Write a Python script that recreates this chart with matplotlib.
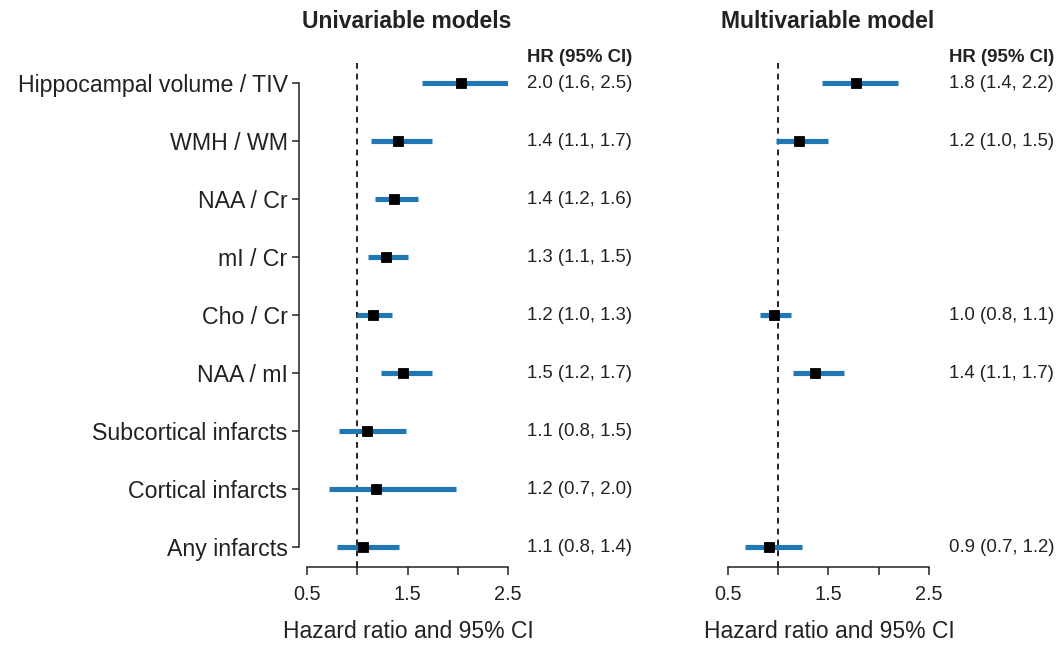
import matplotlib
matplotlib.use("Agg")
import matplotlib.pyplot as plt
import matplotlib.transforms as mtransforms

plt.rcParams['font.family'] = ['Liberation Sans', 'DejaVu Sans']

# ---------------- data ----------------
labels = ["Hippocampal volume / TIV", "WMH / WM", "NAA / Cr", "mI / Cr", "Cho / Cr",
          "NAA / mI", "Subcortical infarcts", "Cortical infarcts", "Any infarcts"]

uni_est = [2.03, 1.41, 1.37, 1.29, 1.16, 1.46, 1.10, 1.19, 1.06]
uni_lo = [1.64, 1.14, 1.18, 1.11, 1.00, 1.24, 0.82, 0.72, 0.80]
uni_hi = [2.51, 1.74, 1.60, 1.50, 1.35, 1.74, 1.49, 1.98, 1.42]
uni_txt = ["2.0 (1.6, 2.5)", "1.4 (1.1, 1.7)", "1.4 (1.2, 1.6)", "1.3 (1.1, 1.5)",
           "1.2 (1.0, 1.3)", "1.5 (1.2, 1.7)", "1.1 (0.8, 1.5)", "1.2 (0.7, 2.0)",
           "1.1 (0.8, 1.4)"]

multi_idx = [0, 1, 4, 5, 8]
multi_est = [1.77, 1.21, 0.96, 1.37, 0.91]
multi_lo = [1.44, 0.98, 0.82, 1.15, 0.67]
multi_hi = [2.19, 1.50, 1.13, 1.65, 1.24]
multi_txt = ["1.8 (1.4, 2.2)", "1.2 (1.0, 1.5)", "1.0 (0.8, 1.1)", "1.4 (1.1, 1.7)",
             "0.9 (0.7, 1.2)"]

xticks = [0.5, 1.0, 1.5, 2.0, 2.5]
xticklabels = ["0.5", "", "1.5", "", "2.5"]

# ---------------- layout ----------------
W, H = 1056, 647
fig = plt.figure(figsize=(W / 100, H / 100), dpi=100)

TXT = '#222222'
BLUE = '#1f78b4'

n = len(labels)
ypos = [n - i for i in range(n)]  # 9..1
row_top_px, row_bot_px = 83.0, 547.3
unit = (row_bot_px - row_top_px) / (n - 1)
axis_px = 567.3
top_px = 55.0
ylo = 1 - (axis_px - row_bot_px) / unit
yhi = n + (row_top_px - top_px) / unit
dash_top = n + (row_top_px - 63.3) / unit


def make_ax(x0, x1):
    ax = fig.add_axes([x0 / W, 1 - axis_px / H, (x1 - x0) / W, (axis_px - top_px) / H])
    ax.set_xlim(0.5, 2.5)
    ax.set_ylim(ylo, yhi)
    for s in ['top', 'right']:
        ax.spines[s].set_visible(False)
    ax.spines['bottom'].set_bounds(0.5, 2.5)
    ax.spines['bottom'].set_color(TXT)
    ax.spines['bottom'].set_linewidth(1.1)
    ax.set_xticks(xticks)
    ax.set_xticklabels(xticklabels)
    ax.tick_params(axis='x', direction='out', length=5.8, width=1.1, pad=7,
                   labelsize=14.3, colors=TXT)
    ax.plot([1.0, 1.0], [ylo, dash_top], color='black', lw=1.2, ls=(0, (3.5, 3)),
            clip_on=False, zorder=1)
    ax.set_facecolor('none')
    return ax


axL = make_ax(307.3, 507.7)
axR = make_ax(728.3, 928.7)

# left y axis
axL.spines['left'].set_position(('outward', 6))
axL.spines['left'].set_bounds(1, n)
axL.spines['left'].set_color(TXT)
axL.spines['left'].set_linewidth(1.1)
axL.set_yticks(ypos)
axL.set_yticklabels(labels)
axL.tick_params(axis='y', direction='out', length=5.2, width=1.1, pad=3,
                labelsize=16.7, colors=TXT)
axR.spines['left'].set_visible(False)
axR.set_yticks([])

# forest marks
for i in range(n):
    axL.plot([uni_lo[i], uni_hi[i]], [ypos[i], ypos[i]], color=BLUE, lw=3.7,
             solid_capstyle='butt', zorder=2)
    axL.plot(uni_est[i], ypos[i], marker='s', color='black', ms=7.6, mew=0.6, zorder=3)
for j, i in enumerate(multi_idx):
    axR.plot([multi_lo[j], multi_hi[j]], [ypos[i], ypos[i]], color=BLUE, lw=3.7,
             solid_capstyle='butt', zorder=2)
    axR.plot(multi_est[j], ypos[i], marker='s', color='black', ms=7.6, mew=0.6, zorder=3)

# HR text columns
hdr_y = n + (row_top_px - 57.5) / unit
for ax, x_px, x0 in [(axL, 527.3, 307.3), (axR, 949.0, 728.3)]:
    tr = mtransforms.blended_transform_factory(ax.transAxes, ax.transData)
    xf = (x_px - x0) / 200.4
    ax.text(xf, hdr_y, "HR (95% CI)", transform=tr, ha='left', va='center',
            fontsize=13.4, fontweight='bold', color=TXT, clip_on=False)
    if ax is axL:
        for i in range(n):
            ax.text(xf, ypos[i], uni_txt[i], transform=tr, ha='left', va='center',
                    fontsize=13.4, color=TXT, clip_on=False)
    else:
        for j, i in enumerate(multi_idx):
            ax.text(xf, ypos[i], multi_txt[j], transform=tr, ha='left', va='center',
                    fontsize=13.4, color=TXT, clip_on=False)

# titles and x labels
fig.text(406.7 / W, 1 - 22 / H, "Univariable models", ha='center', va='center',
         fontsize=16.5, fontweight='bold', color=TXT)
fig.text(828 / W, 1 - 22 / H, "Multivariable model", ha='center', va='center',
         fontsize=16.5, fontweight='bold', color=TXT)
fig.text(408.5 / W, 1 - 632 / H, "Hazard ratio and 95% CI", ha='center', va='center',
         fontsize=16.5, color=TXT)
fig.text(829.5 / W, 1 - 632 / H, "Hazard ratio and 95% CI", ha='center', va='center',
         fontsize=16.5, color=TXT)

fig.savefig("out.png", dpi=100)
